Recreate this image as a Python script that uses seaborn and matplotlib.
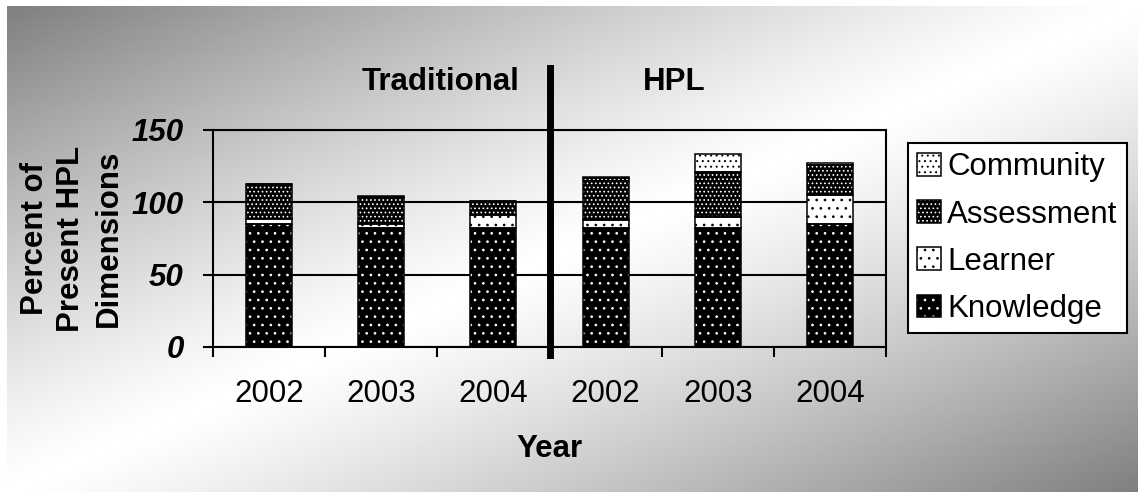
import numpy as np
import pandas as pd
import matplotlib
matplotlib.use('Agg')
import matplotlib.pyplot as plt
import seaborn as sns
from matplotlib.patches import Patch, Rectangle
from matplotlib.legend_handler import HandlerTuple

plt.rcParams['font.family'] = ['Liberation Sans', 'DejaVu Sans']
plt.rcParams['hatch.linewidth'] = 0.7

# values (percent of present HPL dimensions)
periods = ['Traditional'] * 3 + ['HPL'] * 3
years = ['2002', '2003', '2004', '2002', '2003', '2004']
knowledge = [85, 82, 82.5, 82, 82.5, 85]
learner = [3.5, 3, 8.5, 6, 7.5, 20]
assessment = [24.5, 18.5, 10, 28.5, 31, 21]
community = [0, 1, 0, 1, 12.5, 1.5]

slots = [f'{p} {y}' for p, y in zip(periods, years)]
df = pd.DataFrame({
    'slot': slots,
    'Knowledge': knowledge,
    'Learner': learner,
    'Assessment': assessment,
    'Community': community,
})

FS = 22.5

fig = plt.figure(figsize=(11.38, 4.92), dpi=100)
fig.patch.set_facecolor('white')

# diagonal grey-white-grey backdrop
bg = fig.add_axes([7 / 1138, 0, 1 - 7 / 1138, 1 - 6 / 492], zorder=-10)
xx, yy = np.meshgrid(np.linspace(0, 1, 600), np.linspace(0, 1, 300))
shade = 1 - 0.5 * np.abs(xx + yy - 1) ** 1.2
bg.imshow(shade, cmap='gray', vmin=0, vmax=1, aspect='auto', interpolation='bilinear')
bg.axis('off')

ax = fig.add_axes([213 / 1138, 145 / 492, 673 / 1138, 217 / 492])
ax.set_facecolor('none')

# (column, fill, dot colour, hatch)
layers = [
    ('Knowledge', 'black', 'white', '..'),
    ('Learner', 'white', 'black', '..'),
    ('Assessment', 'black', 'white', '....'),
    ('Community', 'white', 'black', '...'),
]

bottom = np.zeros(len(df))
handles = []
for name, face, dot, hatch in layers:
    n0 = len(ax.patches)
    sns.barplot(data=df, x='slot', y=name, bottom=bottom, width=0.41, color=face,
                errorbar=None, ax=ax, zorder=2)
    new = list(ax.patches[n0:])
    for p in new:
        p.set_facecolor(face)
        p.set_edgecolor(dot)
        p.set_hatch(hatch)
        p.set_linewidth(0)
        ax.add_patch(Rectangle(p.get_xy(), p.get_width(), p.get_height(),
                               fill=False, ec='black', lw=1.1, zorder=3))
    bottom = bottom + df[name].to_numpy()
    handles.append((Patch(fc=face, ec=dot, hatch=hatch, lw=0),
                    Patch(fill=False, ec='black', lw=1.1)))

ax.set_ylim(0, 150)
ax.set_yticks([0, 50, 100, 150])
ax.set_xlim(-0.5, 5.5)
ax.set_xticks(range(len(years)), labels=years)
ax.set_xticks(np.arange(-0.5, len(years), 1), minor=True)
ax.tick_params(axis='x', which='major', length=0, pad=23, labelsize=FS)
ax.tick_params(axis='x', which='minor', length=7, width=1.5, direction='out')
ax.tick_params(axis='y', length=7, width=1.5, pad=14, labelsize=FS)
for lab in ax.get_yticklabels():
    lab.set_fontweight('bold')
    lab.set_fontstyle('italic')

ax.yaxis.grid(True, color='black', lw=1.5)
ax.set_axisbelow(True)
for s in ax.spines.values():
    s.set_color('black')
    s.set_linewidth(1.5)

ax.set_ylabel('Percent of\nPresent HPL\nDimensions', fontsize=FS, fontweight='bold',
              labelpad=6, linespacing=1.3)
ax.set_xlabel('Year', fontsize=FS, fontweight='bold', labelpad=18)

# divider between the two teaching approaches
ax.axvline(2.5, ymin=-0.037, ymax=1.287, color='black', lw=5, clip_on=False, zorder=5)
fig.text(441 / 1138, 1 - 82 / 492, 'Traditional', ha='center', va='center',
         fontsize=FS, fontweight='bold')
fig.text(674 / 1138, 1 - 82 / 492, 'HPL', ha='center', va='center',
         fontsize=FS, fontweight='bold')

names = [l[0] for l in layers]
leg = ax.legend(handles[::-1], names[::-1], handler_map={tuple: HandlerTuple(ndivide=1)},
                loc='upper left', bbox_to_anchor=(908 / 1138, 1 - 143 / 492),
                bbox_transform=fig.transFigure, fontsize=FS, frameon=True, fancybox=False,
                edgecolor='black', framealpha=1, borderpad=0.3, labelspacing=0.55,
                handlelength=0.75, handleheight=0.75, handletextpad=0.2, borderaxespad=0)
leg.get_frame().set_linewidth(1.5)

fig.savefig('out.png', dpi=100)
